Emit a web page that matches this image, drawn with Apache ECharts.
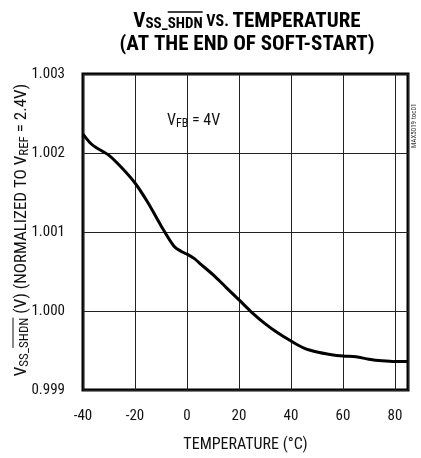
<!DOCTYPE html>
<html><head><meta charset="utf-8">
<script src="https://cdn.jsdelivr.net/npm/echarts@6/dist/echarts.min.js"></script>
<style>html,body{margin:0;padding:0;background:#fff}#c{width:421px;height:458px}</style>
</head><body><div id="c"></div>
<script>
var temperature = [-40,-37,-35,-30,-25,-20,-15,-10,-5,-2,0,3,5,10,15,20,25,30,35,40,45,50,55,60,65,70,75,80,85];
var vssNorm = [1.00224,1.00212,1.00207,1.00197,1.00181,1.00162,1.00137,1.00108,1.00082,1.00075,1.00072,1.00066,1.00060,1.00046,1.00030,1.00014,0.99998,0.99984,0.99972,0.99962,0.99953,0.99948,0.99945,0.99943,0.99942,0.99939,0.99937,0.99936,0.99936];
var xTicks = [-40,-20,0,20,40,60,80];
var yTicks = [0.999,1.000,1.001,1.002,1.003];

var F = '"Liberation Sans Narrow","Roboto Condensed","Liberation Sans",sans-serif';
var cv = document.createElement('canvas').getContext('2d');
function tw(s, f){cv.font=f; return cv.measureText(s).width;}

// title metrics
var FB='bold 21px '+F, FS='bold 15px '+F, FT='bold 16px '+F;
var tParts=[['V',FB],['SS_',FS],['SHDN',FS],[' VS. ',FT],['TEMPERATURE',FB]];
var tW=0; tParts.forEach(function(p){tW+=tw(p[0],p[1]);});
var tCx=247, tX0=tCx-tW/2;
var olT0=tX0+tw('V',FB)+tw('SS_',FS), olT1=olT0+tw('SHDN',FS);

// y label metrics
var FM='17px '+F, FSb='13px '+F;
var yParts=[['V',FM],['SS_',FSb],['SHDN',FSb],[' (V) (NORMALIZED TO V',FM],['REF',FSb],[' = 2.4V)',FM]];
var yW=0; yParts.forEach(function(p){yW+=tw(p[0],p[1]);});
var yCy=230, yCx=22, yB=yCy+yW/2;
var olY0=yB-tw('V',FM)-tw('SS_',FSb), olY1=olY0-tw('SHDN',FSb);

var chart = echarts.init(document.getElementById('c'), null, {renderer:'canvas'});
chart.setOption({
  animation:false,
  backgroundColor:'#fff',
  grid:{left:83,right:13,top:74,bottom:61,show:true,borderColor:'#000',borderWidth:3,containLabel:false},
  xAxis:{type:'value',min:-40,max:85,interval:20,
    axisLine:{show:false},axisTick:{show:false},
    splitLine:{show:true,lineStyle:{color:'#222',width:1}},
    axisLabel:{fontFamily:F,fontSize:15,color:'#111',margin:19,showMaxLabel:false,
      formatter:function(v){return xTicks.indexOf(v)>=0?String(v):'';}},
    name:'TEMPERATURE (°C)',nameLocation:'middle',nameGap:47,
    nameTextStyle:{fontFamily:F,fontSize:16,color:'#111'}},
  yAxis:{type:'value',min:0.999,max:1.003,interval:0.001,
    axisLine:{show:false},axisTick:{show:false},
    splitLine:{show:true,lineStyle:{color:'#222',width:1}},
    axisLabel:{fontFamily:F,fontSize:15,color:'#111',margin:18,
      formatter:function(v){return v.toFixed(3);}}},
  series:[{type:'line',data:temperature.map(function(t,i){return [t,vssNorm[i]];}),
    smooth:0.3,showSymbol:false,lineStyle:{color:'#000',width:3}}],
  graphic:[
    {type:'text',x:tCx,y:10,style:{
      text:'{v|V}{s|SS_SHDN}{t| VS. }{b|TEMPERATURE}\n{b|(AT THE END OF SOFT-START)}',
      align:'center',verticalAlign:'top',fill:'#000',lineHeight:23,
      rich:{v:{fontFamily:F,fontWeight:'bold',fontSize:21,lineHeight:23},
            s:{fontFamily:F,fontWeight:'bold',fontSize:15,padding:[6,0,0,0],lineHeight:23},
            t:{fontFamily:F,fontWeight:'bold',fontSize:16,lineHeight:23},
            b:{fontFamily:F,fontWeight:'bold',fontSize:21,lineHeight:23}}}},
    {type:'line',shape:{x1:olT0,y1:12,x2:olT1,y2:12},style:{stroke:'#000',lineWidth:1.5}},
    {type:'text',x:yCx,y:yCy,rotation:Math.PI/2,style:{
      text:'{m|V}{s|SS_SHDN}{m| (V) (NORMALIZED TO V}{s|REF}{m| = 2.4V)}',
      align:'center',verticalAlign:'middle',fill:'#111',
      rich:{m:{fontFamily:F,fontSize:17,lineHeight:19},s:{fontFamily:F,fontSize:13,padding:[6,0,0,0],lineHeight:19}}}},
    {type:'line',shape:{x1:13,y1:olY0,x2:13,y2:olY1},style:{stroke:'#111',lineWidth:1}},
    {type:'text',x:165,y:110,style:{
      text:'{m|V}{s|FB}{m| = 4V}',backgroundColor:'#fff',padding:[2,2,2,2],
      rich:{m:{fontFamily:F,fontSize:16,fill:'#111'},s:{fontFamily:F,fontSize:12,fill:'#111',padding:[6,0,0,0]}}}},
    {type:'text',x:414,y:148,rotation:Math.PI/2,style:{
      text:'MAX5019 toc01',fontFamily:F,fontSize:7,fill:'#333',align:'left',verticalAlign:'middle'}}
  ]
});
</script></body></html>
